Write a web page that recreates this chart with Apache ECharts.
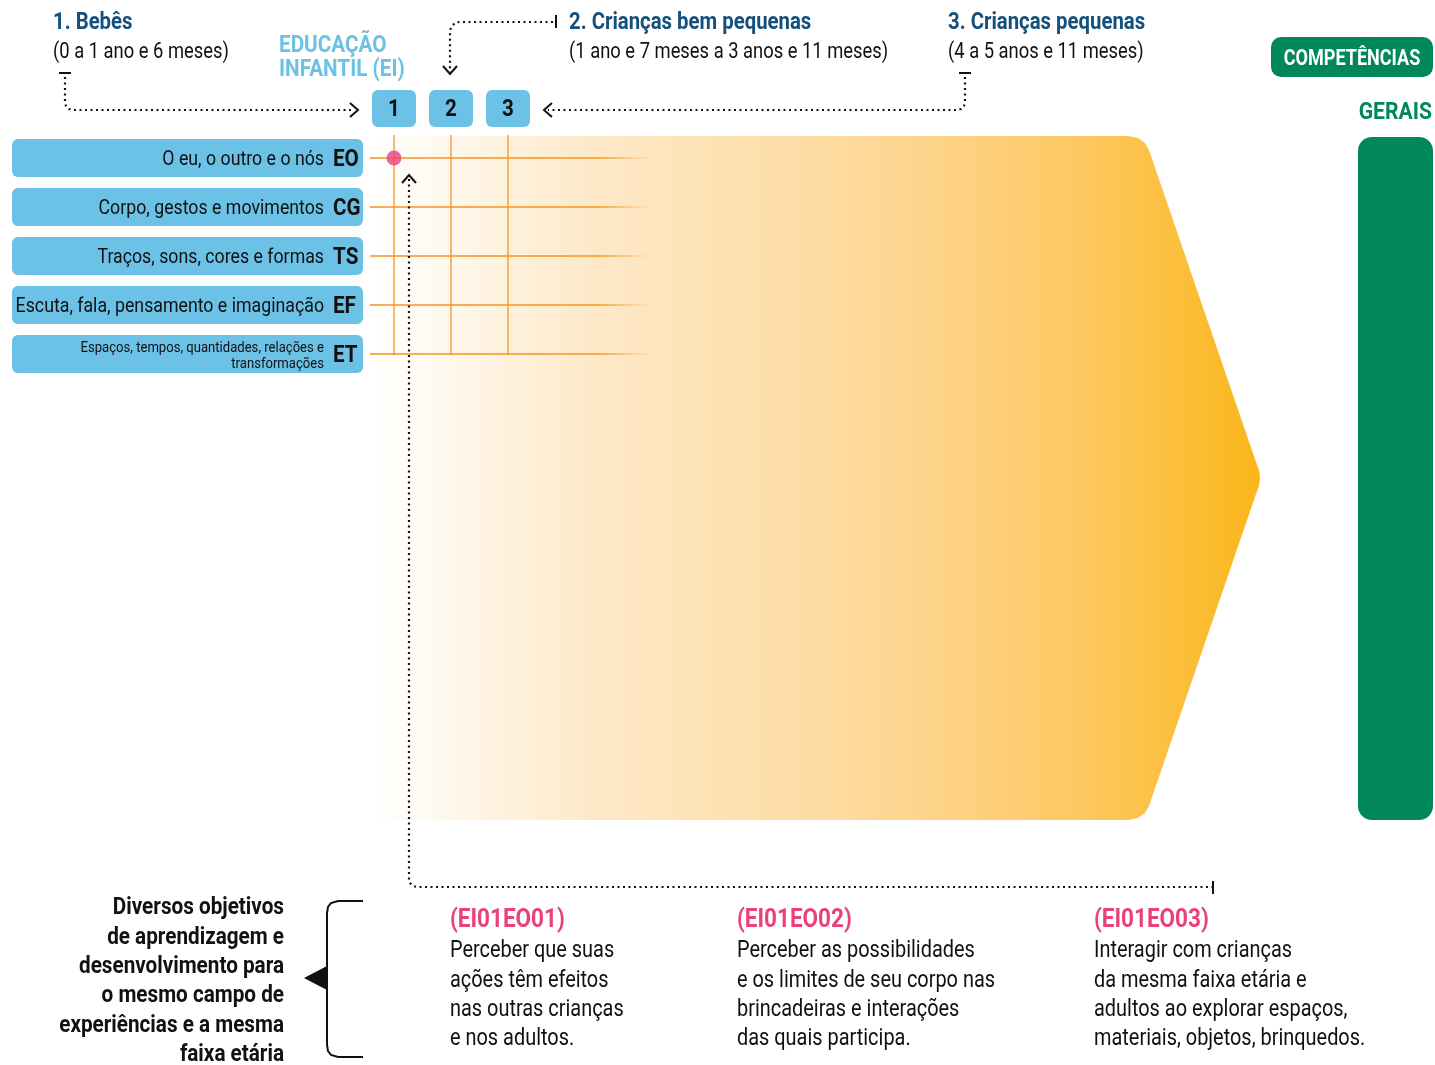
<!DOCTYPE html>
<html>
<head>
<meta charset="utf-8">
<script src="https://cdn.jsdelivr.net/npm/echarts@6/dist/echarts.min.js"></script>
<style>
  html, body { margin: 0; padding: 0; background: #fff; }
  #main { width: 1435px; height: 1065px; }
</style>
</head>
<body>
<div id="main"></div>
<script>
// etapas da educação infantil
const stages = ['1', '2', '3'];
const ageTitles = ['1. Bebês', '2. Crianças bem pequenas', '3. Crianças pequenas'];
const ageRanges = ['(0 a 1 ano e 6 meses)', '(1 ano e 7 meses a 3 anos e 11 meses)', '(4 a 5 anos e 11 meses)'];

// campos de experiências
const fieldNames = [
  'O eu, o outro e o nós',
  'Corpo, gestos e movimentos',
  'Traços, sons, cores e formas',
  'Escuta, fala, pensamento e imaginação',
  'Espaços, tempos, quantidades, relações e\ntransformações'
];
const fieldCodes = ['EO', 'CG', 'TS', 'EF', 'ET'];

// ponto destacado: [etapa, campo]
const highlight = [[0, 0]];

// objetivos de aprendizagem
const objectiveCodes = ['(EI01EO01)', '(EI01EO02)', '(EI01EO03)'];
const objectiveTexts = [
  ['Perceber que suas', 'ações têm efeitos', 'nas outras crianças', 'e nos adultos.'],
  ['Perceber as possibilidades', 'e os limites de seu corpo nas', 'brincadeiras e interações', 'das quais participa.'],
  ['Interagir com crianças', 'da mesma faixa etária e', 'adultos ao explorar espaços,', 'materiais, objetos, brinquedos.']
];
const noteLines = [
  'Diversos objetivos', 'de aprendizagem e', 'desenvolvimento para',
  'o mesmo campo de', 'experiências e a mesma', 'faixa etária'
];

const FONT = 'Roboto, "Noto Sans", sans-serif';
const SQUEEZE = 0.845; // fonte condensada aproximada
const DARK_BLUE = '#13507e';
const LIGHT_BLUE = '#6cc1e6';
const GREEN = '#00875a';
const PINK = '#e8417d';
const ORANGE = '#f7941d';

function txt(text, x, y, size, opts) {
  opts = opts || {};
  return {
    type: 'text',
    z: 10,
    x: x,
    y: y,
    scaleX: opts.squeeze || SQUEEZE,
    style: {
      text: text,
      x: 0,
      y: 0,
      font: (opts.bold ? 'bold ' : '') + size + 'px ' + FONT,
      fill: opts.color || '#111',
      textAlign: opts.align || 'left',
      textVerticalAlign: opts.valign || 'middle',
      lineHeight: opts.lineHeight
    }
  };
}

function dotted(points) {
  return {
    type: 'polyline',
    z: 5,
    shape: { points: points },
    style: { stroke: '#111', lineWidth: 2.2, lineDash: [2, 3.5], fill: null }
  };
}

function solid(points, w) {
  return {
    type: 'polyline',
    z: 5,
    shape: { points: points },
    style: { stroke: '#111', lineWidth: w || 2, fill: null }
  };
}

let graphics = [];

// forma amarela (seta)
graphics.push({
  type: 'polygon',
  z: -1,
  shape: {
    points: [
      [372, 136], [1128, 136], [1138, 138], [1145, 143], [1149, 150],
      [1256, 462], [1259, 470], [1260, 478], [1259, 486], [1256, 494],
      [1149, 806], [1145, 813], [1138, 818], [1128, 820], [372, 820]
    ]
  },
  style: {
    fill: new echarts.graphic.LinearGradient(0, 0, 1, 0, [
      { offset: 0, color: '#ffffff' },
      { offset: 0.25, color: '#fde9c8' },
      { offset: 0.55, color: '#fed99b' },
      { offset: 0.8, color: '#fdc862' },
      { offset: 1, color: '#fbb61b' }
    ])
  }
});

// competências gerais
graphics.push({ type: 'rect', shape: { x: 1358, y: 137, width: 75, height: 683, r: 14 }, style: { fill: GREEN } });
graphics.push({ type: 'rect', shape: { x: 1271, y: 37, width: 162, height: 40, r: 10 }, style: { fill: GREEN } });
graphics.push(txt('COMPETÊNCIAS', 1352, 59, 22, { bold: true, color: '#fff', align: 'center', squeeze: 0.82 }));
graphics.push(txt('GERAIS', 1432, 113, 23, { bold: true, color: GREEN, align: 'right', squeeze: 0.92 }));

// títulos das faixas etárias
const titleX = [53, 569, 948];
titleX.forEach(function (x, i) {
  graphics.push(txt(ageTitles[i], x, 23, 23, { bold: true, color: DARK_BLUE, squeeze: 0.885 }));
  graphics.push(txt(ageRanges[i], x, 52, 22, { squeeze: 0.835 }));
});
graphics.push(txt('EDUCAÇÃO\nINFANTIL (EI)', 279, 34, 23, { bold: true, color: LIGHT_BLUE, valign: 'top', lineHeight: 24, squeeze: 0.9 }));

// conectores pontilhados
graphics.push(solid([[59, 73], [71, 73]]));
graphics.push(dotted([[65, 77], [65, 102], [66, 106], [69, 109], [73, 110], [354, 110]]));
graphics.push(solid([[350, 103], [358, 110], [350, 117]]));

graphics.push(solid([[556, 15], [556, 28]]));
graphics.push(dotted([[553, 22], [459, 22], [455, 23], [452, 26], [450, 30], [450, 72]]));
graphics.push(solid([[443, 66], [450, 74], [457, 66]]));

graphics.push(solid([[959, 73], [971, 73]]));
graphics.push(dotted([[965, 77], [965, 102], [964, 106], [961, 109], [957, 110], [548, 110]]));
graphics.push(solid([[552, 103], [544, 110], [552, 117]]));

graphics.push(solid([[402, 183], [409, 175], [416, 183]]));
graphics.push(dotted([[409, 179], [409, 879], [410, 883], [413, 886], [417, 887], [1212, 887]]));
graphics.push(solid([[1213, 881], [1213, 894]]));

// chave e nota
graphics.push(solid([[363, 901], [338, 901], [331, 903], [328, 907], [327, 913], [327, 1045], [328, 1051], [331, 1055], [338, 1057], [363, 1057]]));
graphics.push({ type: 'polygon', shape: { points: [[304, 978], [327, 966], [327, 990]] }, style: { fill: '#111' } });
graphics.push(txt(noteLines.join('\n'), 284, 894, 23, { bold: true, align: 'right', valign: 'top', lineHeight: 29.3, squeeze: 0.9 }));

// objetivos
const objX = [450, 737, 1094];
objX.forEach(function (x, i) {
  graphics.push(txt(objectiveCodes[i], x, 921, 25, { bold: true, color: PINK, squeeze: 0.9 }));
  graphics.push(txt(objectiveTexts[i].join('\n'), x, 937, 23.3, { valign: 'top', lineHeight: 29.3, squeeze: 0.855 }));
});

let option = {
  animation: false,
  grid: { left: 394, top: 158, width: 114, height: 196 },
  xAxis: { type: 'category', data: stages, boundaryGap: false, show: false },
  yAxis: { type: 'category', data: fieldCodes, inverse: true, boundaryGap: false, show: false },
  graphic: graphics,
  series: [
    {
      // linhas dos campos + caixas à esquerda
      type: 'custom',
      z: 3,
      data: fieldCodes.map(function (c, i) { return [0, i]; }),
      renderItem: function (params, api) {
        const i = api.value(1);
        const p = api.coord([0, i]);
        const y = p[1];
        const right = p[0] - 31;
        const twoLines = fieldNames[i].indexOf('\n') >= 0;
        return {
          type: 'group',
          children: [
            {
              type: 'rect',
              shape: { x: 12, y: y - 19, width: right - 12, height: 38, r: 6 },
              style: { fill: LIGHT_BLUE }
            },
            {
              type: 'line',
              shape: { x1: p[0] - 24, y1: y, x2: p[0] + 256, y2: y },
              style: {
                lineWidth: 1.3,
                stroke: new echarts.graphic.LinearGradient(p[0] - 24, 0, p[0] + 256, 0, [
                  { offset: 0, color: ORANGE },
                  { offset: 0.82, color: ORANGE },
                  { offset: 1, color: 'rgba(247,148,29,0)' }
                ], true)
              }
            },
            {
              type: 'text',
              x: right - 30,
              y: y + 2,
              scaleX: 0.86,
              style: {
                text: fieldCodes[i], x: 0, y: 0,
                font: 'bold 24px ' + FONT, fill: '#111',
                textAlign: 'left', textVerticalAlign: 'middle'
              }
            },
            {
              type: 'text',
              x: right - 39,
              y: y + 2,
              scaleX: SQUEEZE,
              style: {
                text: fieldNames[i], x: 0, y: 0,
                font: (twoLines ? 15.5 : 21) + 'px ' + FONT, fill: '#111',
                textAlign: 'right', textVerticalAlign: 'middle',
                lineHeight: twoLines ? 16 : 24
              }
            }
          ]
        };
      }
    },
    {
      // colunas das etapas + caixas 1 2 3
      type: 'custom',
      z: 4,
      data: stages.map(function (s, i) { return [i, 0]; }),
      renderItem: function (params, api) {
        const i = api.value(0);
        const top = api.coord([i, 0]);
        const bottom = api.coord([i, fieldCodes.length - 1]);
        return {
          type: 'group',
          children: [
            {
              type: 'line',
              shape: { x1: top[0], y1: top[1] - 23, x2: bottom[0], y2: bottom[1] + 1 },
              style: { stroke: ORANGE, lineWidth: 1.3 }
            },
            {
              type: 'rect',
              shape: { x: top[0] - 22, y: 90, width: 44, height: 37, r: 6 },
              style: { fill: LIGHT_BLUE }
            },
            {
              type: 'text',
              x: top[0],
              y: 110,
              scaleX: 0.86,
              style: {
                text: stages[i], x: 0, y: 0,
                font: 'bold 24px ' + FONT, fill: '#111',
                textAlign: 'center', textVerticalAlign: 'middle'
              }
            }
          ]
        };
      }
    },
    {
      type: 'scatter',
      z: 6,
      symbolSize: 15,
      itemStyle: { color: PINK },
      data: highlight
    }
  ]
};

let myChart = echarts.init(document.getElementById('main'));
myChart.setOption(option);
window.onresize = function () {
  myChart.resize();
};
</script>
</body>
</html>
